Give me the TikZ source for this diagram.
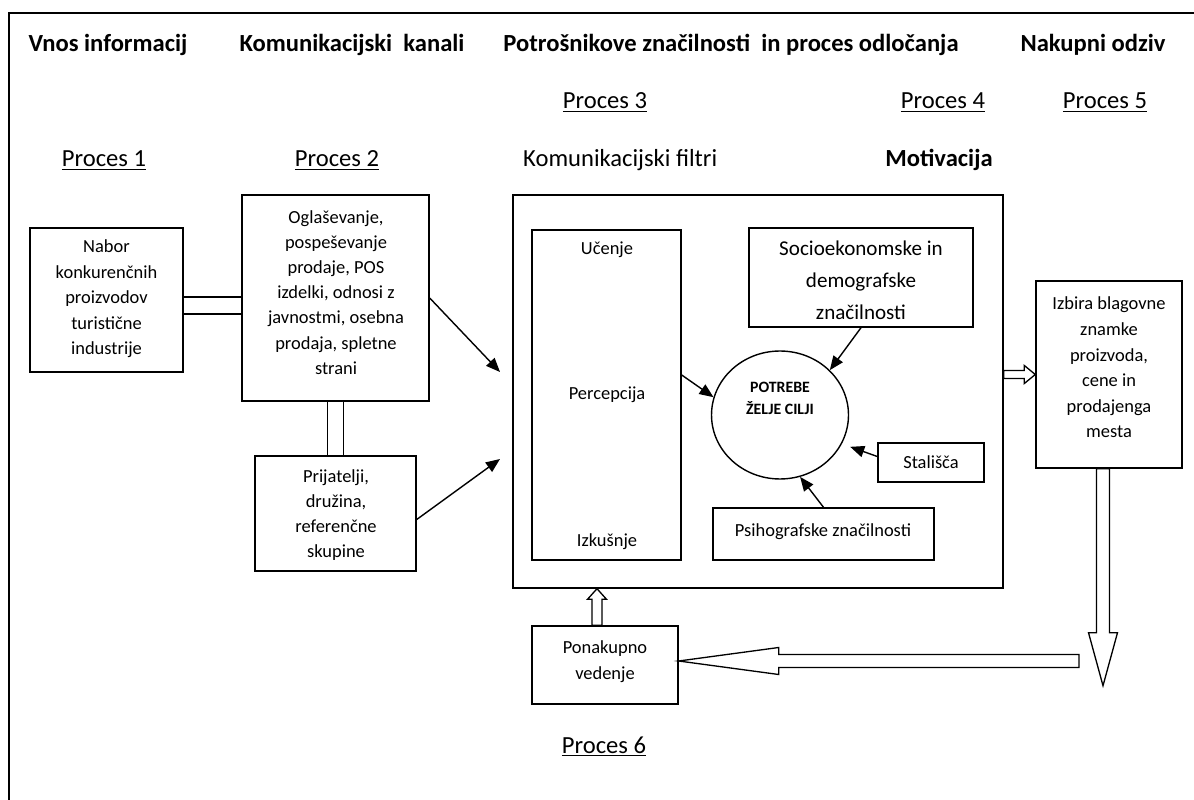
\documentclass[tikz,border=0pt]{standalone}
\usepackage{fontspec}
\setmainfont{Carlito}
\usetikzlibrary{arrows.meta,calc,fit,shapes.geometric}
\newcommand\hdrfont{\fontsize{14}{17}\selectfont\bfseries}
\newcommand\lblfont{\fontsize{14}{17}\selectfont}
\newcommand\boxfont{\fontsize{10.5}{14.2}\selectfont}
\newcommand\bigboxfont{\fontsize{12}{18.1}\selectfont}
\newcommand\circfont{\fontsize{9}{12.5}\selectfont\bfseries}

\begin{document}
\begin{tikzpicture}[x=0.02cm,y=-0.02cm,
  box/.style={draw,line width=0.8pt,inner sep=0pt},
  hdr/.style={anchor=base,font=\hdrfont},
  lbl/.style={anchor=base,font=\lblfont},
  txt/.style={anchor=base,font=\boxfont},
  mtxt/.style={align=center,font=\boxfont},
  arr/.style={line width=0.8pt,-{Triangle[length=8pt,width=6.5pt]}},
  dbl/.style={double,line width=0.8pt,double distance=#1},
  hollow/.style={draw,line width=0.75pt,fill=white,line join=miter}]

\useasboundingbox (0,0) rectangle (1194,800);
% outer frame
\draw[line width=1.1pt] (1194,13) -- (9,13) -- (9,800);

% column headings
\node[hdr] (h1) at (108,52) {Vnos informacij};
\node[hdr] (h2) at (352,52) {Komunikacijski\ \ kanali};
\node[hdr] (h3) at (731,52) {Potrošnikove značilnosti\ \ in proces odločanja};
\node[hdr] (h4) at (1093,52) {Nakupni odziv};

% process labels
\node[lbl] (p3) at (605,109) {\underline{Proces 3}};
\node[lbl] (p4) at (943,109) {\underline{Proces 4}};
\node[lbl] (p5) at (1105,109) {\underline{Proces 5}};
\node[lbl] (p1) at (104,167) {\underline{Proces 1}};
\node[lbl] (p2) at (337,167) {\underline{Proces 2}};
\node[lbl,anchor=base west] (filt) at (517,167) {Komunikacijski filtri};
\node[hdr] (mot) at (939,167) {Motivacija};
\node[lbl] (p6) at (604,753) {\underline{Proces 6}};

% input and channel boxes
\node[box,fit={(30,228)(183,372)}] (nabor) {};
\node[mtxt,font={\fontsize{10.5}{14.5}\selectfont}] (nabortxt) at (106.5,299)
  {Nabor\\konkurenčnih\\proizvodov\\turistične\\industrije};
\node[box,fit={(242,195)(429,401)}] (ogl) {};
\node[mtxt,font={\fontsize{10.5}{14.3}\selectfont}] (ogltxt) at (336,292.5)
  {Oglaševanje,\\pospeševanje\\prodaje, POS\\izdelki, odnosi z\\javnostmi, osebna\\prodaja, spletne\\strani};
\node[box,fit={(255,456)(416,571)}] (prij) {};
\node[mtxt] (prijtxt) at (336,515.5) {Prijatelji,\\družina,\\referenčne\\skupine};

% consumer block
\node[box,fit={(513,195)(1003,588)}] (big) {};
\node[box,fit={(532,230)(681,560)}] (lbox) {};
\node[txt] (uc) at (607,255) {Učenje};
\node[txt] (perc) at (607,400) {Percepcija};
\node[txt] (izk) at (607,546) {Izkušnje};
\node[box,fit={(749,228)(973,327)}] (socio) {};
\node[align=center,font=\bigboxfont] (sociotxt) at (861,280)
  {Socioekonomske in\\demografske\\značilnosti};
\node[draw,ellipse,line width=0.8pt,minimum width=2.74cm,minimum height=2.56cm,inner sep=0pt] (circ) at (780,415) {};
\node[align=center,font=\circfont] (ctext) at (780,398) {POTREBE\\ŽELJE CILJI};
\node[box,fit={(878,443)(984,482)}] (stal) {};
\node[txt] (staltxt) at (931,469) {Stališča};
\node[box,fit={(713,508)(934,560)}] (psih) {};
\node[txt] (psihtxt) at (823,537) {Psihografske značilnosti};

% response and feedback boxes
\node[box,fit={(1036,281)(1182,468)}] (izbira) {};
\node[mtxt,font={\fontsize{10.5}{14.6}\selectfont}] (izbiratxt) at (1109,367.5)
  {Izbira blagovne\\znamke\\proizvoda,\\cene in\\prodajenga\\mesta};
\node[box,fit={(532,626)(678,704)}] (pon) {};
\node[mtxt,font={\fontsize{10.5}{14.7}\selectfont}] (pontxt) at (605,661.5) {Ponakupno\\vedenje};

% double-line links
\draw[dbl=8.8pt] ($(nabor.east)+(0,5.5)$) -- ($(ogl.west)+(0,7.5)$);
\draw[dbl=8.3pt] (ogl.south) -- (prij.north);

% single arrows
\coordinate (t1) at (500,372);
\coordinate (t2) at (500,459);
\draw[arr] (ogl.east) -- (t1);
\draw[arr] ($(prij.east)+(0,6)$) -- (t2);
\draw[arr] ($(lbox.east)+(0,-20)$) -- (circ.165);
\draw[arr] (socio.south) -- (circ.42);
\draw[arr,shorten >=5pt] ($(stal.west)+(0,-6)$) -- (circ.-25);
\draw[arr] (psih.north) -- (circ.-72);

% block arrows
\coordinate (ra) at (big.east |- izbira.west);
\draw[hollow] ($(ra)+(0,-4)$) -- ($(izbira.west)+(-11,-4)$) -- ($(izbira.west)+(-11,-9)$)
  -- (izbira.west) -- ($(izbira.west)+(-11,9)$) -- ($(izbira.west)+(-11,4)$) -- ($(ra)+(0,4)$) -- cycle;

\coordinate (da) at ($(izbira.south)+(-6,0)$);
\draw[hollow] ($(da)+(-6.5,0)$) -- ($(da)+(-6.5,164)$) -- ($(da)+(-14.5,164)$) -- ($(da)+(0,217)$)
  -- ($(da)+(14.5,164)$) -- ($(da)+(6.5,164)$) -- ($(da)+(6.5,0)$) -- cycle;

\coordinate (fb) at (1079,661);
\coordinate (lt) at ($(pon.east)+(0,-4)$);
\draw[hollow] ($(fb)+(0,-6.5)$) -- ($(lt)+(100,-6.5)$) -- ($(lt)+(100,-13.5)$) -- (lt)
  -- ($(lt)+(100,13.5)$) -- ($(lt)+(100,6.5)$) -- ($(fb)+(0,6.5)$) -- cycle;

\coordinate (ua) at ($(pon.north)+(-8,0)$);
\draw[hollow] ($(ua)+(-5,0)$) -- ($(ua)+(-5,-26)$) -- ($(ua)+(-9.5,-26)$) -- (ua |- big.south)
  -- ($(ua)+(9.5,-26)$) -- ($(ua)+(5,-26)$) -- ($(ua)+(5,0)$) -- cycle;
\end{tikzpicture}
\end{document}
